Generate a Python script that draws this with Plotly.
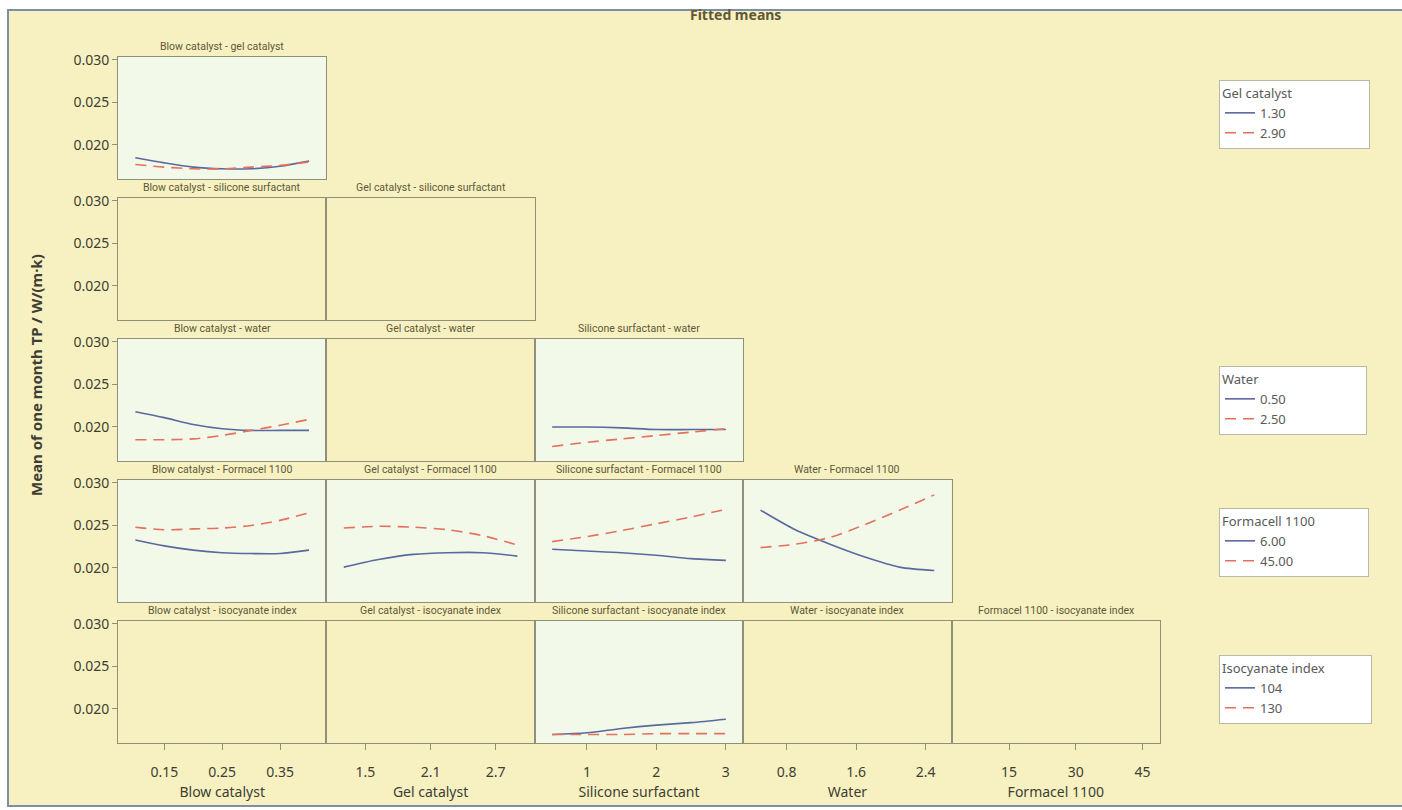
import plotly.graph_objects as go

# ---------------- data ----------------
col_factors = ["Blow catalyst", "Gel catalyst", "Silicone surfactant", "Water", "Formacel 1100"]
row_factors = ["gel catalyst", "silicone surfactant", "water", "Formacel 1100", "isocyanate index"]

blow_x = [0.10, 0.15, 0.20, 0.25, 0.30, 0.35, 0.40]
gel_x = [1.30, 1.62, 1.94, 2.26, 2.58, 2.90]
sil_x = [0.5, 1.0, 1.5, 2.0, 2.5, 3.0]
water_x = [0.5, 0.9, 1.3, 1.7, 2.1, 2.5]

# row 1: Blow catalyst - gel catalyst (gel 1.30 / 2.90)
blow_gel_low = [0.0185, 0.0179, 0.0174, 0.0172, 0.0172, 0.0175, 0.0181]
blow_gel_high = [0.0177, 0.0174, 0.0172, 0.0172, 0.0174, 0.0176, 0.0180]
# row 3: water 0.50 / 2.50
blow_water_low = [0.0218, 0.0211, 0.0203, 0.0198, 0.0196, 0.0196, 0.0196]
blow_water_high = [0.0185, 0.0185, 0.0186, 0.0190, 0.0196, 0.0202, 0.0209]
sil_water_low = [0.0200, 0.0200, 0.0199, 0.0197, 0.0197, 0.0197]
sil_water_high = [0.0177, 0.0182, 0.0186, 0.0190, 0.0194, 0.0198]
# row 4: Formacel 1100 6.00 / 45.00
blow_form_low = [0.0233, 0.0226, 0.0221, 0.0218, 0.0217, 0.0217, 0.0221]
blow_form_high = [0.0248, 0.0245, 0.0246, 0.0247, 0.0250, 0.0256, 0.0265]
gel_form_low = [0.0201, 0.0210, 0.0216, 0.0218, 0.0218, 0.0214]
gel_form_high = [0.0247, 0.0249, 0.0248, 0.0245, 0.0238, 0.0227]
sil_form_low = [0.0222, 0.0220, 0.0218, 0.0215, 0.0211, 0.0209]
sil_form_high = [0.0231, 0.0237, 0.0244, 0.0252, 0.0260, 0.0269]
water_form_low = [0.0268, 0.0245, 0.0228, 0.0213, 0.0201, 0.0197]
water_form_high = [0.0224, 0.0228, 0.0236, 0.0251, 0.0268, 0.0286]
# row 5: isocyanate index 104 / 130
sil_iso_low = [0.0170, 0.0172, 0.0177, 0.0181, 0.0184, 0.0188]
sil_iso_high = [0.0170, 0.0170, 0.0170, 0.0171, 0.0171, 0.0171]

x_tickvals = [[0.15, 0.25, 0.35], [1.5, 2.1, 2.7], [1, 2, 3], [0.8, 1.6, 2.4], [15, 30, 45]]
x_ticktext = [["0.15", "0.25", "0.35"], ["1.5", "2.1", "2.7"], ["1", "2", "3"], ["0.8", "1.6", "2.4"], ["15", "30", "45"]]
x_ranges = [[0.07, 0.43], [1.14, 3.06], [0.25, 3.25], [0.3, 2.7], [2.1, 48.9]]
y_tickvals = [0.020, 0.025, 0.030]
y_ticktext = ["0.020", "0.025", "0.030"]
y_range = [0.0160, 0.03035]

legend_titles = ["Gel catalyst", None, "Water", "Formacell 1100", "Isocyanate index"]
legend_levels = [["1.30", "2.90"], None, ["0.50", "2.50"], ["6.00", "45.00"], ["104", "130"]]

panel_data = {
    (0, 0): (blow_x, blow_gel_low, blow_gel_high),
    (2, 0): (blow_x, blow_water_low, blow_water_high),
    (2, 2): (sil_x, sil_water_low, sil_water_high),
    (3, 0): (blow_x, blow_form_low, blow_form_high),
    (3, 1): (gel_x, gel_form_low, gel_form_high),
    (3, 2): (sil_x, sil_form_low, sil_form_high),
    (3, 3): (water_x, water_form_low, water_form_high),
    (4, 2): (sil_x, sil_iso_low, sil_iso_high),
}

# ---------------- layout geometry ----------------
W, H = 1402, 810
L, R, T, B = 118, 1160, 57, 743
PW, PH = R - L, B - T
ROW_STEP, ROW_H = 141, 122


def fx(px):
    return (px - L) / PW


def fy(py):
    return (B - py) / PH


PAGE = "#f7f1c1"
PANEL = "#f3f9e8"
FRAME = "#8f8f7a"
BLUE = "#5a68a0"
RED = "#e4705f"
TXT = "#3e3e34"
TITLE_TXT = "#5e5838"
FONT = "Noto Sans, Open Sans, sans-serif"
NARROW = "Liberation Sans Narrow, Roboto, sans-serif"

fig = go.Figure()
layout = dict(
    width=W, height=H,
    margin=dict(l=L, r=W - R, t=T, b=H - B, pad=0),
    paper_bgcolor="white",
    plot_bgcolor="rgba(0,0,0,0)",
    font=dict(family=FONT, color=TXT, size=13),
    showlegend=True,
)
shapes = []
annotations = []

# page background & outer border
shapes.append(dict(type="rect", xref="paper", yref="paper", layer="below",
                   x0=fx(8), x1=fx(1408), y0=fy(806), y1=fy(10),
                   fillcolor=PAGE, line=dict(color="#7f8ea6", width=2)))

legend_keys = ["legend", None, "legend2", "legend3", "legend4"]
legend_tops = [80, None, 366, 508, 655]
legend_pad = [22, None, 31, 15, 13]

n = 0
for r in range(5):
    top = T + r * ROW_STEP
    first_in_row = True
    for c in range(r + 1):
        n += 1
        xa = "x" if n == 1 else f"x{n}"
        ya = "y" if n == 1 else f"y{n}"
        xkey = "xaxis" if n == 1 else f"xaxis{n}"
        ykey = "yaxis" if n == 1 else f"yaxis{n}"
        bottom_row = r == 4
        left_col = c == 0
        layout[xkey] = dict(
            domain=[c / 5, (c + 1) / 5], anchor=ya, range=x_ranges[c],
            showline=True, mirror=True, linecolor=FRAME, linewidth=1,
            showgrid=False, zeroline=False, fixedrange=True,
            tickmode="array", tickvals=x_tickvals[c], ticktext=x_ticktext[c],
            ticks="outside" if bottom_row else "", ticklen=6, tickcolor=FRAME,
            showticklabels=bottom_row, tickfont=dict(size=14, color=TXT),
            ticklabelstandoff=10,
            title=dict(text=col_factors[c] if bottom_row else "", font=dict(size=14, color=TXT), standoff=7),
        )
        layout[ykey] = dict(
            domain=[fy(top + ROW_H), fy(top)], anchor=xa, range=y_range,
            showline=True, mirror=True, linecolor=FRAME, linewidth=1,
            showgrid=False, zeroline=False, fixedrange=True,
            tickmode="array", tickvals=y_tickvals, ticktext=y_ticktext,
            ticks="outside" if left_col else "", ticklen=5, tickcolor=FRAME,
            showticklabels=left_col, tickfont=dict(size=14, color=TXT),
        )
        # panel title
        annotations.append(dict(
            xref="paper", yref="paper", x=(c + 0.5) / 5, y=fy(top - 2),
            xanchor="center", yanchor="bottom", showarrow=False,
            text=f"{col_factors[c]} - {row_factors[r]}",
            font=dict(family=NARROW, size=10.5, color=TITLE_TXT),
        ))
        if (r, c) in panel_data:
            xs, lo, hi = panel_data[(r, c)]
            shapes.append(dict(type="rect", xref=f"{xa} domain", yref=f"{ya} domain",
                               x0=0, x1=1, y0=0, y1=1, layer="below",
                               fillcolor=PANEL, line=dict(width=0)))
            names = legend_levels[r]
            fig.add_trace(go.Scatter(
                x=xs, y=lo, xaxis=xa, yaxis=ya, mode="lines", name=names[0],
                line=dict(color=BLUE, width=1.6, shape="spline", smoothing=0.8),
                legend=legend_keys[r], showlegend=first_in_row, legendgroup=f"r{r}lo",
                hoverinfo="skip"))
            fig.add_trace(go.Scatter(
                x=xs, y=hi, xaxis=xa, yaxis=ya, mode="lines", name=names[1],
                line=dict(color=RED, width=1.6, dash="11px,7px", shape="spline", smoothing=0.8),
                legend=legend_keys[r], showlegend=first_in_row, legendgroup=f"r{r}hi",
                hoverinfo="skip"))
            first_in_row = False
        else:
            # empty panel: placeholder trace so that the subplot frame is drawn
            fig.add_trace(go.Scatter(x=[None], y=[None], xaxis=xa, yaxis=ya,
                                     mode="lines", showlegend=False, hoverinfo="skip"))

# legends
for r in range(5):
    key = legend_keys[r]
    if key is None:
        continue
    layout[key] = dict(
        x=fx(1219), y=fy(legend_tops[r]), xanchor="left", yanchor="top",
        xref="paper", yref="paper",
        bgcolor="white", bordercolor="#b9b9a8", borderwidth=1,
        font=dict(family=FONT, size=13, color="#5a5a5a"),
        title=dict(text=legend_titles[r] + "\u00a0" * legend_pad[r],
                   font=dict(family=FONT, size=13, color="#5a5a5a")),
        tracegroupgap=0, itemwidth=30, traceorder="normal",
    )

# main title and y-axis title
annotations.append(dict(xref="paper", yref="paper", x=fx(735), y=fy(14),
                        xanchor="center", yanchor="middle", showarrow=False,
                        text="<b>Fitted means</b>",
                        font=dict(family=FONT, size=14, color=TITLE_TXT)))
annotations.append(dict(xref="paper", yref="paper", x=fx(36), y=fy(375),
                        xanchor="center", yanchor="middle", showarrow=False,
                        textangle=-90,
                        text="<b>Mean of one month TP / W/(m·k)</b>",
                        font=dict(family=FONT, size=15, color=TXT)))

layout["shapes"] = shapes
layout["annotations"] = annotations
fig.update_layout(**layout)
fig.write_html("out.html", config={"displayModeBar": False},
               post_script="document.body.style.margin='0';document.body.style.overflow='hidden';")
